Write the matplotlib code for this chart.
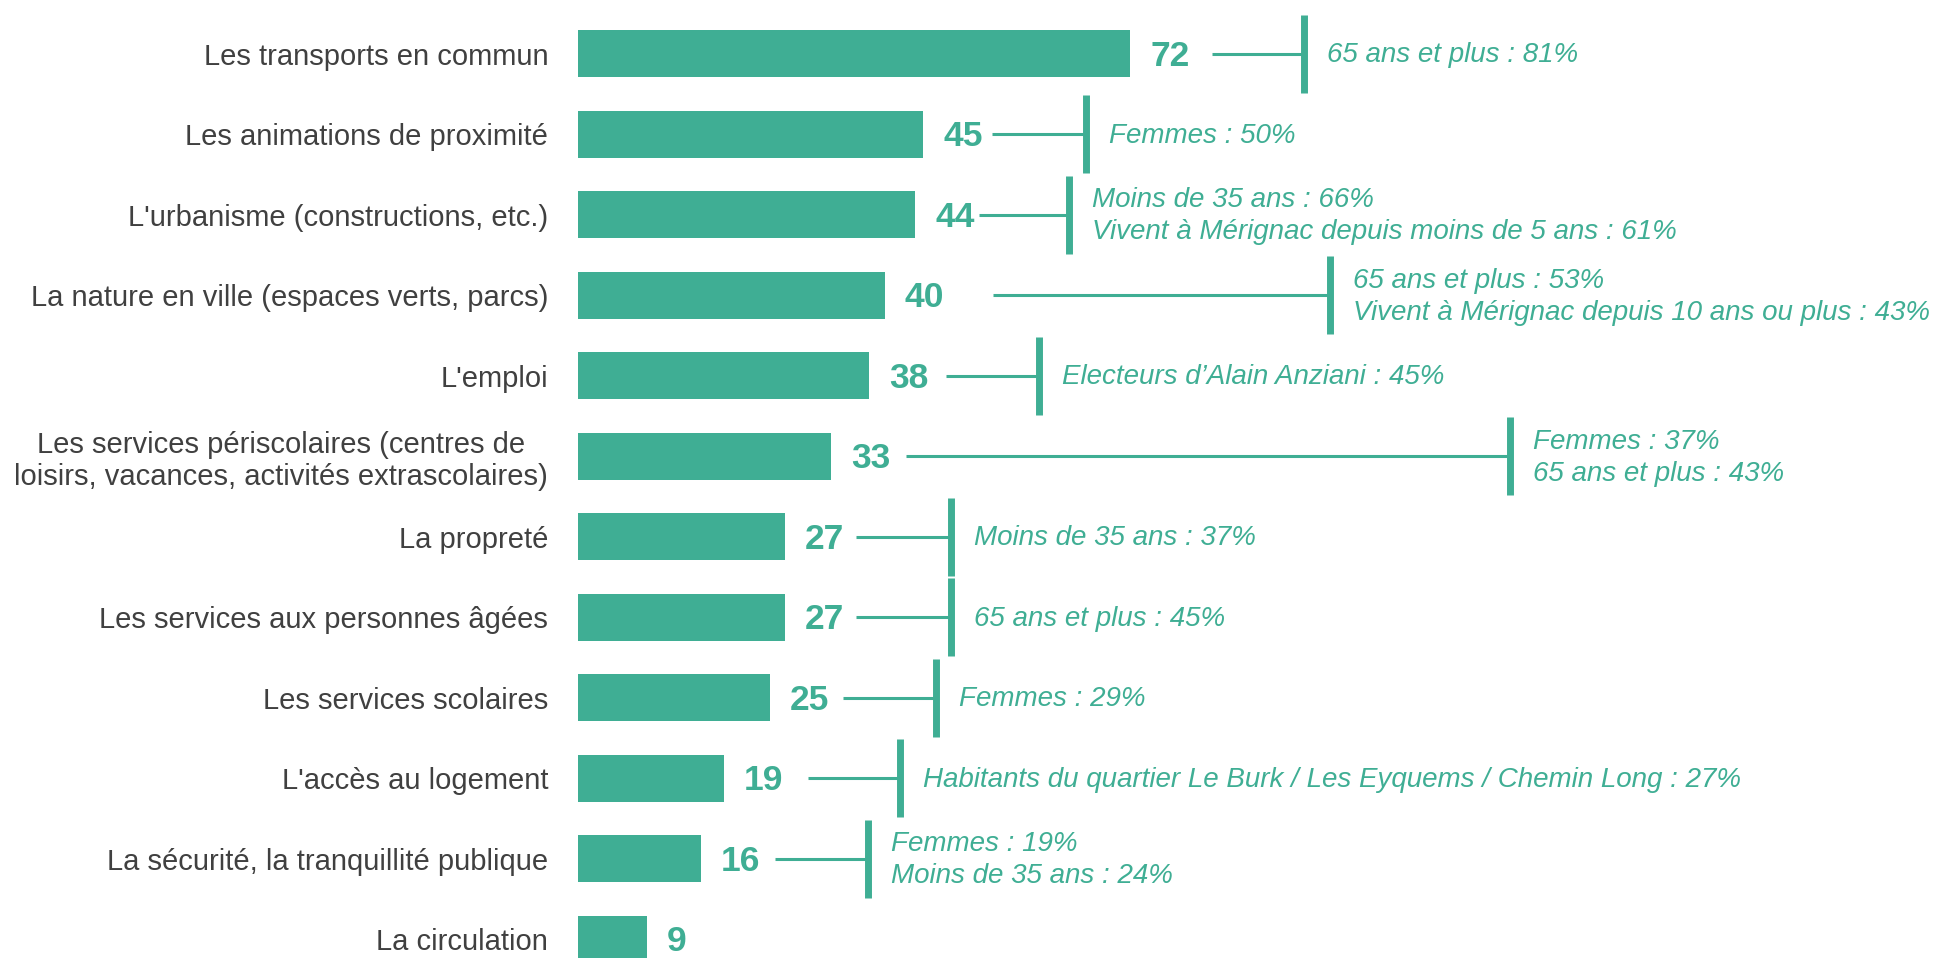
import matplotlib
matplotlib.use("Agg")
import matplotlib.pyplot as plt

plt.rcParams['font.family'] = ['Liberation Sans', 'DejaVu Sans']

# Themes and the share of respondents (%)
themes = [
    "Les transports en commun",
    "Les animations de proximité",
    "L'urbanisme (constructions, etc.)",
    "La nature en ville (espaces verts, parcs)",
    "L'emploi",
    "Les services périscolaires (centres de\nloisirs, vacances, activités extrascolaires)",
    "La propreté",
    "Les services aux personnes âgées",
    "Les services scolaires",
    "L'accès au logement",
    "La sécurité, la tranquillité publique",
    "La circulation",
]
values = [72, 45, 44, 40, 38, 33, 27, 27, 25, 19, 16, 9]

# Over-represented groups for each theme
callouts = [
    "65 ans et plus : 81%",
    "Femmes : 50%",
    "Moins de 35 ans : 66%\nVivent à Mérignac depuis moins de 5 ans : 61%",
    "65 ans et plus : 53%\nVivent à Mérignac depuis 10 ans ou plus : 43%",
    "Electeurs d\u2019Alain Anziani : 45%",
    "Femmes : 37%\n65 ans et plus : 43%",
    "Moins de 35 ans : 37%",
    "65 ans et plus : 45%",
    "Femmes : 29%",
    "Habitants du quartier Le Burk / Les Eyquems / Chemin Long : 27%",
    "Femmes : 19%\nMoins de 35 ans : 24%",
    None,
]

# where the connector starts and where its vertical bracket sits (x units)
line_start = [82.7, 54.0, 52.3, 54.1, 48.0, 42.8, 36.3, 36.3, 34.6, 30.0, 25.7, None]
bracket_x = [94.7, 66.3, 64.0, 98.1, 60.1, 121.6, 48.7, 48.7, 46.7, 42.0, 37.8, None]

TEAL = '#3FAE94'
GREY = '#404040'

W, H = 1944, 958
fig = plt.figure(figsize=(W / 100, H / 100), dpi=100)
left = 578 / W
ax = fig.add_axes([left, 0, 1 - left, 1])

px_per_unit = 552 / 72
ax.set_xlim(0, (W - 578) / px_per_unit)
row = 80.5
ax.set_ylim((H - 53.5) / row, -53.5 / row)

ypos = list(range(len(values)))
ax.barh(ypos, values, height=47 / row, color=TEAL)

for y, v in zip(ypos, values):
    ax.annotate(str(v), (v, y), xytext=(14.5, -2), textcoords='offset points',
                ha='left', va='center', fontsize=25.5, fontweight='bold', color=TEAL)

half = 39 / row
for y, txt, x0, xb in zip(ypos, callouts, line_start, bracket_x):
    if txt is None:
        continue
    ax.plot([x0, xb], [y, y], color=TEAL, lw=2.2, solid_capstyle='butt')
    ax.plot([xb, xb], [y - half, y + half], color=TEAL, lw=5, solid_capstyle='butt')
    ax.annotate(txt, (xb, y), xytext=(16.5, -1.2), textcoords='offset points',
                ha='left', va='center', fontsize=20, fontstyle='italic',
                color=TEAL, linespacing=1.3)

ax.set_yticks(ypos)
ax.set_yticklabels(themes, fontsize=21, color=GREY)
for lab in ax.get_yticklabels():
    lab.set_multialignment('center')
ax.tick_params(axis='y', length=0, pad=21.5)
ax.set_xticks([])
for s in ax.spines.values():
    s.set_visible(False)

fig.savefig('out.png', dpi=100)
